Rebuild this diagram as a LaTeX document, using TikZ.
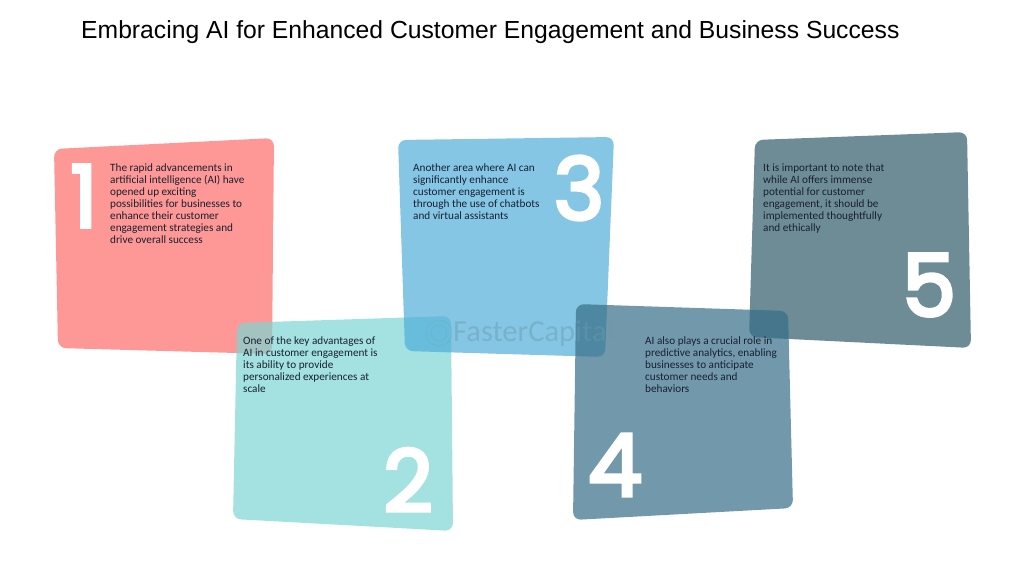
\documentclass[tikz,border=0pt]{standalone}
\usepackage{fontspec}
\setmainfont{Carlito}
\newfontfamily\titlefont{Liberation Sans}
\newfontfamily\digitfont[FakeBold=4]{Poppins}
\definecolor{cardred}{RGB}{252,108,105}
\definecolor{cardteal}{RGB}{124,214,211}
\definecolor{cardblue}{RGB}{81,174,218}
\definecolor{cardslate}{RGB}{54,109,135}
\definecolor{carddark}{RGB}{47,91,106}
\definecolor{bodyink}{RGB}{25,32,48}
\definecolor{markink}{RGB}{105,155,170}
\newcommand{\sizebody}{\fontsize{11.2}{12}\selectfont}
\newcommand{\sizedigit}{\fontsize{86}{86}\selectfont}
\tikzset{
    card/.style={rounded corners=8pt, fill opacity=0.7},
    cardtext/.style={anchor=north west, inner sep=0pt, align=left, text=bodyink, font=\sizebody},
    digit/.style={anchor=center, inner sep=0pt, text=white, font=\digitfont\sizedigit},
    watermark/.style={markink, opacity=0.45}
}
\begin{document}
\begin{tikzpicture}[x=1pt,y=-1pt]
    \useasboundingbox (0,0) rectangle (1024,576);

    \node[anchor=west, inner sep=0pt, font=\titlefont\fontsize{24.7}{28}\selectfont] (title) at (81,32)
        {Embracing AI for Enhanced Customer Engagement and Business Success};

    \fill[card, cardred] (54,149) -- (274,138) -- (272,354) -- (58,348) -- cycle;
    \fill[card, cardteal] (237,323) -- (451,316) -- (453,531) -- (233,519) -- cycle;
    \fill[card, cardblue] (398,140) -- (614,137) -- (605,357) -- (405,351) -- cycle;
    \fill[card, carddark] (755,140) -- (967,132) -- (971,348) -- (749,337) -- cycle;
    \fill[card, cardslate] (576,304) -- (788,311) -- (793,508) -- (573,520) -- cycle;

    % watermark
    \node[circle, draw, watermark, minimum size=26pt, inner sep=0pt] (marklogo) at (439,333) {};
    \node[circle, draw, watermark, minimum size=16pt, inner sep=0pt] (markcore) at (439,333) {};
    \node[anchor=west, inner sep=0pt, watermark, font=\fontsize{30.5}{30}\selectfont] (mark) at (453,333) {FasterCapital};

    \node[digit] (d1) at (84,196) {1};
    \node[digit] (d2) at (408,480) {2};
    \node[digit] (d3) at (579,188) {3};
    \node[digit] (d4) at (615,465) {4};
    \node[digit] (d5) at (929,285) {5};

    \node[cardtext] (t1) at (110,164) {The rapid advancements in\\artificial intelligence (AI) have\\opened up exciting\\possibilities for businesses to\\enhance their customer\\engagement strategies and\\drive overall success};
    \node[cardtext] (t2) at (243,337) {One of the key advantages of\\AI in customer engagement is\\its ability to provide\\personalized experiences at\\scale};
    \node[cardtext] (t3) at (413,164) {Another area where AI can\\significantly enhance\\customer engagement is\\through the use of chatbots\\and virtual assistants};
    \node[cardtext] (t4) at (645,337) {AI also plays a crucial role in\\predictive analytics, enabling\\businesses to anticipate\\customer needs and\\behaviors};
    \node[cardtext] (t5) at (763,164) {It is important to note that\\while AI offers immense\\potential for customer\\engagement, it should be\\implemented thoughtfully\\and ethically};
\end{tikzpicture}
\end{document}
